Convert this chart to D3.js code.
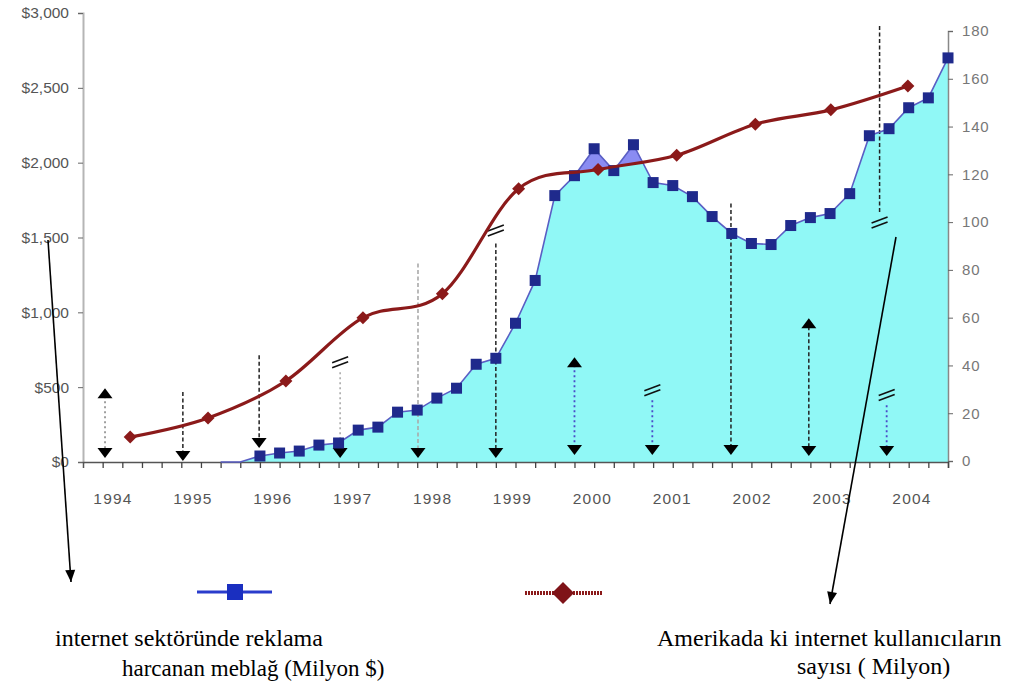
<!DOCTYPE html>
<html>
<head>
<meta charset="utf-8">
<script src="https://cdn.jsdelivr.net/npm/d3@7"></script>
<style>
  html, body { margin: 0; padding: 0; background: #fff; }
  svg { display: block; }
</style>
</head>
<body>
<svg id="chart" width="1010" height="686"></svg>
<script>
// ---- data ----
// Quarterly internet ad spending (Milyon $), quarters as fractional years
const adQuarters = [1995.5,1995.75,1996,1996.25,1996.5,1996.75,1997,1997.25,1997.5,1997.75,
  1998,1998.25,1998.5,1998.75,1999,1999.25,1999.5,1999.75,2000,2000.25,2000.5,2000.75,
  2001,2001.25,2001.5,2001.75,2002,2002.25,2002.5,2002.75,2003,2003.25,2003.5,2003.75,
  2004,2004.25,2004.5,2004.75];
const adSpend = [0,0,40,60,73,113,127,213,233,333,347,427,493,653,693,927,1213,1780,1913,2093,
  1947,2120,1867,1847,1773,1640,1527,1460,1453,1580,1633,1660,1793,2180,2227,2367,2433,2700];

// Internet users in USA (Milyon), yearly points
const userDates = [1994.35,1995.34,1996.33,1997.31,1998.32,1999.29,2000.30,2001.30,2002.30,2003.26,2004.24];
const users = [10,18,33.5,60,70,114,122,128,141,147,157];

// axes
const leftTicks = [0,500,1000,1500,2000,2500,3000];
const rightTicks = [0,20,40,60,80,100,120,140,160,180];
const yearLabels = [1994,1995,1996,1997,1998,1999,2000,2001,2002,2003,2004];
const quarterTicks = d3.range(1994, 2004.76, 0.25);

// annotation arrows (t = year position, values on the $ axis)
const annotations = [
  {t:1994.03, top:493, bottom:27, up:true,  brk:null, style:"greydot"},
  {t:1995.02, top:467, bottom:7,  up:false, brk:null, style:"blackdash"},
  {t:1995.99, top:713, bottom:93, up:false, brk:null, style:"blackdash"},
  {t:1997.02, top:600, bottom:27, up:false, brk:667,  style:"lightdot"},
  {t:1998.01, top:1327,bottom:27, up:false, brk:null, style:"greydash"},
  {t:1999.00, top:1460,bottom:27, up:false, brk:1547, style:"blackdash"},
  {t:2000.00, top:700, bottom:47, up:true,  brk:null, style:"bluedot"},
  {t:2000.99, top:413, bottom:47, up:false, brk:480,  style:"bluedot"},
  {t:2001.99, top:1727,bottom:47, up:false, brk:null, style:"blackdash"},
  {t:2002.98, top:960, bottom:40, up:true,  brk:null, style:"blackdash"},
  {t:2003.97, top:380, bottom:40, up:false, brk:447,  style:"bluedot"}
];
const topDashed = {t:2003.88, top:2913, bottom:1667, brk:1600};

// ---- drawing ----
const svg = d3.select("#chart");
const x = d3.scaleLinear().domain([1993.75, 2004.75]).range([83, 948]);
const yL = d3.scaleLinear().domain([0, 3000]).range([462, 13]);
const yR = d3.scaleLinear().domain([0, 180]).range([461, 31]);
const xLab = d3.scaleLinear().domain([1994, 2004]).range([113, 912]);

const adData = adQuarters.map((t, i) => ({t, v: adSpend[i]}));
const userData = userDates.map((t, i) => ({t, v: users[i]}));

const curveRed = d3.curveCardinal.tension(0);

// clip path: region above the red line (where blue exceeds red, fill purple)
const defs = svg.append("defs");
defs.append("clipPath").attr("id", "aboveRed")
  .append("path")
  .attr("d", d3.area().x(d => x(d.t)).y0(0).y1(d => yR(d.v)).curve(curveRed)(userData));

// cyan area under ad spend
const adArea = d3.area().x(d => x(d.t)).y0(yL(0)).y1(d => yL(d.v));
svg.append("path").attr("d", adArea(adData)).attr("fill", "#90f8f6");
svg.append("path").attr("d", adArea(adData)).attr("fill", "#8a8cf2")
  .attr("clip-path", "url(#aboveRed)");

// Axes
const gL = svg.append("g").attr("transform", "translate(83,0)")
  .call(d3.axisLeft(yL).tickValues(leftTicks).tickSize(5).tickPadding(9)
    .tickFormat(d => "$" + d3.format(",")(d)));
gL.select(".domain").attr("stroke", "#b5b5b5").attr("stroke-width", 2);
gL.selectAll(".tick line").attr("stroke", "#666");
gL.selectAll("text").attr("font-family", "Liberation Sans, Arial, sans-serif")
  .attr("font-size", 15.5).attr("fill", "#555").attr("letter-spacing", "0px");

const gR = svg.append("g").attr("transform", "translate(948,0)")
  .call(d3.axisRight(yR).tickValues(rightTicks).tickSize(5).tickPadding(9));
gR.select(".domain").attr("stroke", "#888").attr("stroke-width", 1.5);
gR.selectAll(".tick line").attr("stroke", "#666");
gR.selectAll("text").attr("font-family", "Liberation Sans, Arial, sans-serif")
  .attr("font-size", 15).attr("fill", "#777").attr("letter-spacing", "0.8px");

const gX = svg.append("g").attr("transform", "translate(0,462)")
  .call(d3.axisBottom(x).tickValues(quarterTicks).tickSize(6).tickFormat(""));
gX.select(".domain").attr("stroke", "#555").attr("stroke-width", 1.5);
gX.selectAll(".tick line").attr("stroke", "#444").attr("stroke-width", 1.3);

svg.append("g").selectAll("text").data(yearLabels).join("text")
  .attr("x", d => xLab(d)).attr("y", 504)
  .attr("text-anchor", "middle")
  .attr("font-family", "Liberation Sans, Arial, sans-serif")
  .attr("font-size", 15.5).attr("fill", "#555").attr("letter-spacing", "1.2px")
  .text(d => d);

// Annotations (vertical arrows)
const styles = {
  greydot:  {stroke: "#888", dash: "2,3", w: 1.6},
  blackdash:{stroke: "#222", dash: "4,2.5", w: 1.5},
  lightdot: {stroke: "#aaa", dash: "2,3", w: 1.6},
  greydash: {stroke: "#aaa", dash: "4,2.5", w: 1.6},
  bluedot:  {stroke: "#4a4ac8", dash: "2,3", w: 1.8}
};
function head(g, px, py, down) {
  const h = 10, w = 7.5;
  const pts = down ? [[px - w, py - h], [px + w, py - h], [px, py]]
                   : [[px - w, py + h], [px + w, py + h], [px, py]];
  g.append("path").attr("d", "M" + pts.join("L") + "Z").attr("fill", "#000");
}
function brk(g, px, py) {
  [-2.5, 2.5].forEach(o => {
    g.append("line").attr("x1", px - 8).attr("y1", py + o + 3)
      .attr("x2", px + 8).attr("y2", py + o - 3)
      .attr("stroke", "#111").attr("stroke-width", 1.6);
  });
}
const gA = svg.append("g");
annotations.forEach(a => {
  const s = styles[a.style];
  const px = x(a.t);
  gA.append("line").attr("x1", px).attr("x2", px)
    .attr("y1", yL(a.top) + (a.up ? 8 : 0)).attr("y2", yL(a.bottom) - 8)
    .attr("stroke", s.stroke).attr("stroke-width", s.w).attr("stroke-dasharray", s.dash);
  head(gA, px, yL(a.bottom), true);
  if (a.up) head(gA, px, yL(a.top), false);
  if (a.brk !== null) brk(gA, px, yL(a.brk));
});
gA.append("line").attr("x1", x(topDashed.t)).attr("x2", x(topDashed.t))
  .attr("y1", yL(topDashed.top)).attr("y2", yL(topDashed.bottom))
  .attr("stroke", "#222").attr("stroke-width", 1.5).attr("stroke-dasharray", "4,2.5");
brk(gA, x(topDashed.t), yL(topDashed.brk));

// Ad spend line + square markers
svg.append("path")
  .attr("d", d3.line().x(d => x(d.t)).y(d => yL(d.v))(adData))
  .attr("fill", "none").attr("stroke", "#5a5ec4").attr("stroke-width", 1.6);
svg.append("g").selectAll("rect").data(adData.filter(d => d.v > 0)).join("rect")
  .attr("x", d => x(d.t) - 5.5).attr("y", d => yL(d.v) - 5.5)
  .attr("width", 11).attr("height", 11).attr("fill", "#1f2a8c");

// Users line (smooth) + diamond markers
svg.append("path")
  .attr("d", d3.line().x(d => x(d.t)).y(d => yR(d.v)).curve(curveRed)(userData))
  .attr("fill", "none").attr("stroke", "#8b1a1a").attr("stroke-width", 3.2);
const dia = r => `M0,${-r}L${r},0L0,${r}L${-r},0Z`;
svg.append("g").selectAll("path").data(userData).join("path")
  .attr("transform", d => `translate(${x(d.t)},${yR(d.v)})`)
  .attr("d", dia(6.5)).attr("fill", "#8b1a1a");

// Long pointer arrows to the captions
function pointer(x1, y1, x2, y2) {
  svg.append("line").attr("x1", x1).attr("y1", y1).attr("x2", x2).attr("y2", y2)
    .attr("stroke", "#000").attr("stroke-width", 1.6);
  const ang = Math.atan2(y2 - y1, x2 - x1);
  const L = 12, W = 5;
  const bx = x2 - L * Math.cos(ang), by = y2 - L * Math.sin(ang);
  const p1 = [bx + W * Math.sin(ang), by - W * Math.cos(ang)];
  const p2 = [bx - W * Math.sin(ang), by + W * Math.cos(ang)];
  svg.append("path").attr("d", `M${x2},${y2}L${p1}L${p2}Z`).attr("fill", "#000");
}
pointer(48, 240, 71, 582);
pointer(896, 237, 830, 604);

// Legend
const lg = svg.append("g");
lg.append("line").attr("x1", 197).attr("x2", 272).attr("y1", 592).attr("y2", 592)
  .attr("stroke", "#2a3ccc").attr("stroke-width", 3);
lg.append("rect").attr("x", 227).attr("y", 584).attr("width", 16).attr("height", 16).attr("fill", "#1a2fc0");
lg.append("line").attr("x1", 525).attr("x2", 603).attr("y1", 593).attr("y2", 593)
  .attr("stroke", "#8b1a1a").attr("stroke-width", 4).attr("stroke-dasharray", "2,1");
lg.append("path").attr("transform", "translate(563,593)")
  .attr("d", dia(11)).attr("fill", "#7f1318");

// Captions
const cap = svg.append("g").attr("font-family", "Liberation Serif, Times New Roman, serif")
  .attr("fill", "#000");
cap.append("text").attr("x", 55).attr("y", 646).attr("font-size", 24).text("internet sektöründe reklama");
cap.append("text").attr("x", 122).attr("y", 676).attr("font-size", 23).text("harcanan meblağ (Milyon $)");
cap.append("text").attr("x", 657).attr("y", 646).attr("font-size", 24).text("Amerikada ki internet kullanıcıların");
cap.append("text").attr("x", 797).attr("y", 674).attr("font-size", 24).text("sayısı ( Milyon)");
</script>
</body>
</html>
